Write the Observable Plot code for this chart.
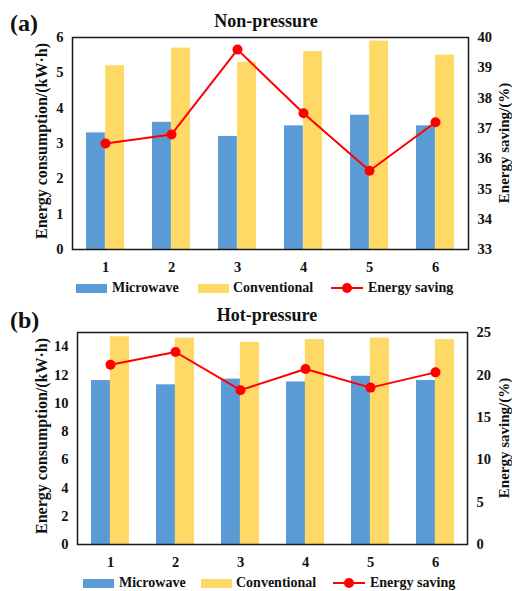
<!DOCTYPE html>
<html><head><meta charset="utf-8">
<script src="https://cdn.jsdelivr.net/npm/d3@7"></script>
<script src="https://cdn.jsdelivr.net/npm/@observablehq/plot@0.6"></script>
<style>
body{margin:0;background:#fff;}
#c{position:relative;width:512px;height:591px;font-family:"Liberation Serif","Times New Roman",serif;font-weight:bold;color:#111;overflow:hidden;}
.p{position:absolute;left:0;}
.t{position:absolute;white-space:nowrap;line-height:1;font-family:"Liberation Serif","Times New Roman",serif;font-weight:bold;}
.rot{transform:translate(-50%,-50%) rotate(-90deg);}
.ctr{transform:translateX(-50%);}
.sw{position:absolute;}
.dot{position:absolute;border-radius:50%;background:#FF0000;}
</style></head><body><div id="c"></div>
<script>
const categories = [1, 2, 3, 4, 5, 6];
const nonMicrowave = [3.3, 3.6, 3.2, 3.5, 3.8, 3.5];
const nonConventional = [5.2, 5.7, 5.3, 5.6, 5.9, 5.5];
const nonSaving = [36.5, 36.8, 39.6, 37.5, 35.6, 37.2];
const hotMicrowave = [11.6, 11.3, 11.7, 11.5, 11.9, 11.6];
const hotConventional = [14.7, 14.6, 14.3, 14.5, 14.6, 14.5];
const hotSaving = [21.2, 22.7, 18.2, 20.7, 18.5, 20.3];
const nonLeftTicks = [0, 1, 2, 3, 4, 5, 6];
const nonRightTicks = [33, 34, 35, 36, 37, 38, 39, 40];
const hotLeftTicks = [0, 2, 4, 6, 8, 10, 12, 14];
const hotRightTicks = [0, 5, 10, 15, 20, 25];
const seriesNames = ["Microwave", "Conventional", "Energy saving"];
const colors = {mw: "#5B9BD5", cv: "#FFD966", s: "#FF0000"};
const FONT = '"Liberation Serif","Times New Roman",serif';

function panel({mw, cv, sv, yMax, leftTicks, rMin, rMax, rightTicks, height, mt, mb, ml, mr}) {
  const toLeft = s => (s - rMin) / (rMax - rMin) * yMax;
  const fromLeft = d => rMin + d / yMax * (rMax - rMin);
  const rows = categories.map((c, i) => ({c, mw: mw[i], cv: cv[i], s: toLeft(sv[i])}));
  const pI = 0.42;
  const step = (512 - ml - mr) / categories.length;
  const bw = step * (1 - pI);
  return Plot.plot({
    width: 512, height,
    marginTop: mt, marginBottom: mb, marginLeft: ml, marginRight: mr,
    style: {fontFamily: FONT, fontSize: "14.5px", fontWeight: "bold", color: "#111", background: "transparent", overflow: "visible"},
    x: {type: "band", domain: categories, paddingInner: pI, paddingOuter: pI / 2},
    y: {domain: [0, yMax]},
    marks: [
      Plot.barY(rows, {x: "c", y: "mw", fill: colors.mw, insetRight: bw / 2}),
      Plot.barY(rows, {x: "c", y: "cv", fill: colors.cv, insetLeft: bw / 2}),
      Plot.line(rows, {x: "c", y: "s", stroke: colors.s, strokeWidth: 2}),
      Plot.dot(rows, {x: "c", y: "s", fill: colors.s, r: 5}),
      Plot.axisY(leftTicks, {anchor: "left", tickSize: 0, tickPadding: 9, label: null}),
      Plot.axisY(rightTicks.map(toLeft), {anchor: "right", tickSize: 0, tickPadding: 9, label: null,
        tickFormat: d => String(Math.round(fromLeft(d)))}),
      Plot.axisX({tickSize: 0, tickPadding: 12, label: null}),
      Plot.frame({stroke: "#1a1a1a", strokeWidth: 1.5})
    ]
  });
}

const c = document.getElementById("c");
function add(el, top) { el.classList.add("p"); el.style.top = top + "px"; c.appendChild(el); }
function text(str, css, cls) {
  const d = document.createElement("div");
  d.className = "t " + (cls || "");
  d.textContent = str;
  Object.assign(d.style, css);
  c.appendChild(d);
  return d;
}
function box(css, cls) {
  const d = document.createElement("div");
  d.className = cls;
  Object.assign(d.style, css);
  c.appendChild(d);
  return d;
}

add(panel({mw: nonMicrowave, cv: nonConventional, sv: nonSaving, yMax: 6, leftTicks: nonLeftTicks,
  rMin: 33, rMax: 40, rightTicks: nonRightTicks, height: 300, mt: 37, mb: 51, ml: 72, mr: 44}), 0);
add(panel({mw: hotMicrowave, cv: hotConventional, sv: hotSaving, yMax: 15, leftTicks: hotLeftTicks,
  rMin: 0, rMax: 25, rightTicks: hotRightTicks, height: 291, mt: 32, mb: 47, ml: 77, mr: 45}), 300);

// titles
text("(a)", {left: "10px", top: "11px", fontSize: "24px"});
text("Non-pressure", {left: "266px", top: "12px", fontSize: "18px"}, "ctr");
text("(b)", {left: "10px", top: "308px", fontSize: "24px"});
text("Hot-pressure", {left: "267px", top: "306px", fontSize: "18px"}, "ctr");

// axis titles
text("Energy consumption/(kW·h)", {left: "42px", top: "141px", fontSize: "16px"}, "rot");
text("Energy saving/(%)", {left: "504px", top: "143px", fontSize: "15px"}, "rot");
text("Energy consumption/(kW·h)", {left: "42px", top: "436px", fontSize: "16px"}, "rot");
text("Energy saving/(%)", {left: "504px", top: "438px", fontSize: "15px"}, "rot");

// legends
function legend(y, xs) {
  box({left: xs[0] + "px", top: (y - 4.5) + "px", width: "31px", height: "9px", background: colors.mw}, "sw");
  text(seriesNames[0], {left: (xs[0] + 36) + "px", top: (y - 7) + "px", fontSize: "14px"});
  box({left: xs[1] + "px", top: (y - 4.5) + "px", width: "31px", height: "9px", background: colors.cv}, "sw");
  text(seriesNames[1], {left: (xs[1] + 35) + "px", top: (y - 7) + "px", fontSize: "14px"});
  box({left: xs[2] + "px", top: (y - 1) + "px", width: "32px", height: "2px", background: colors.s}, "sw");
  box({left: (xs[2] + 11) + "px", top: (y - 5) + "px", width: "10px", height: "10px"}, "dot");
  text(seriesNames[2], {left: (xs[2] + 37) + "px", top: (y - 7) + "px", fontSize: "14px"});
}
legend(288, [76, 198, 331]);
legend(583, [83, 201, 333]);
</script></body></html>
